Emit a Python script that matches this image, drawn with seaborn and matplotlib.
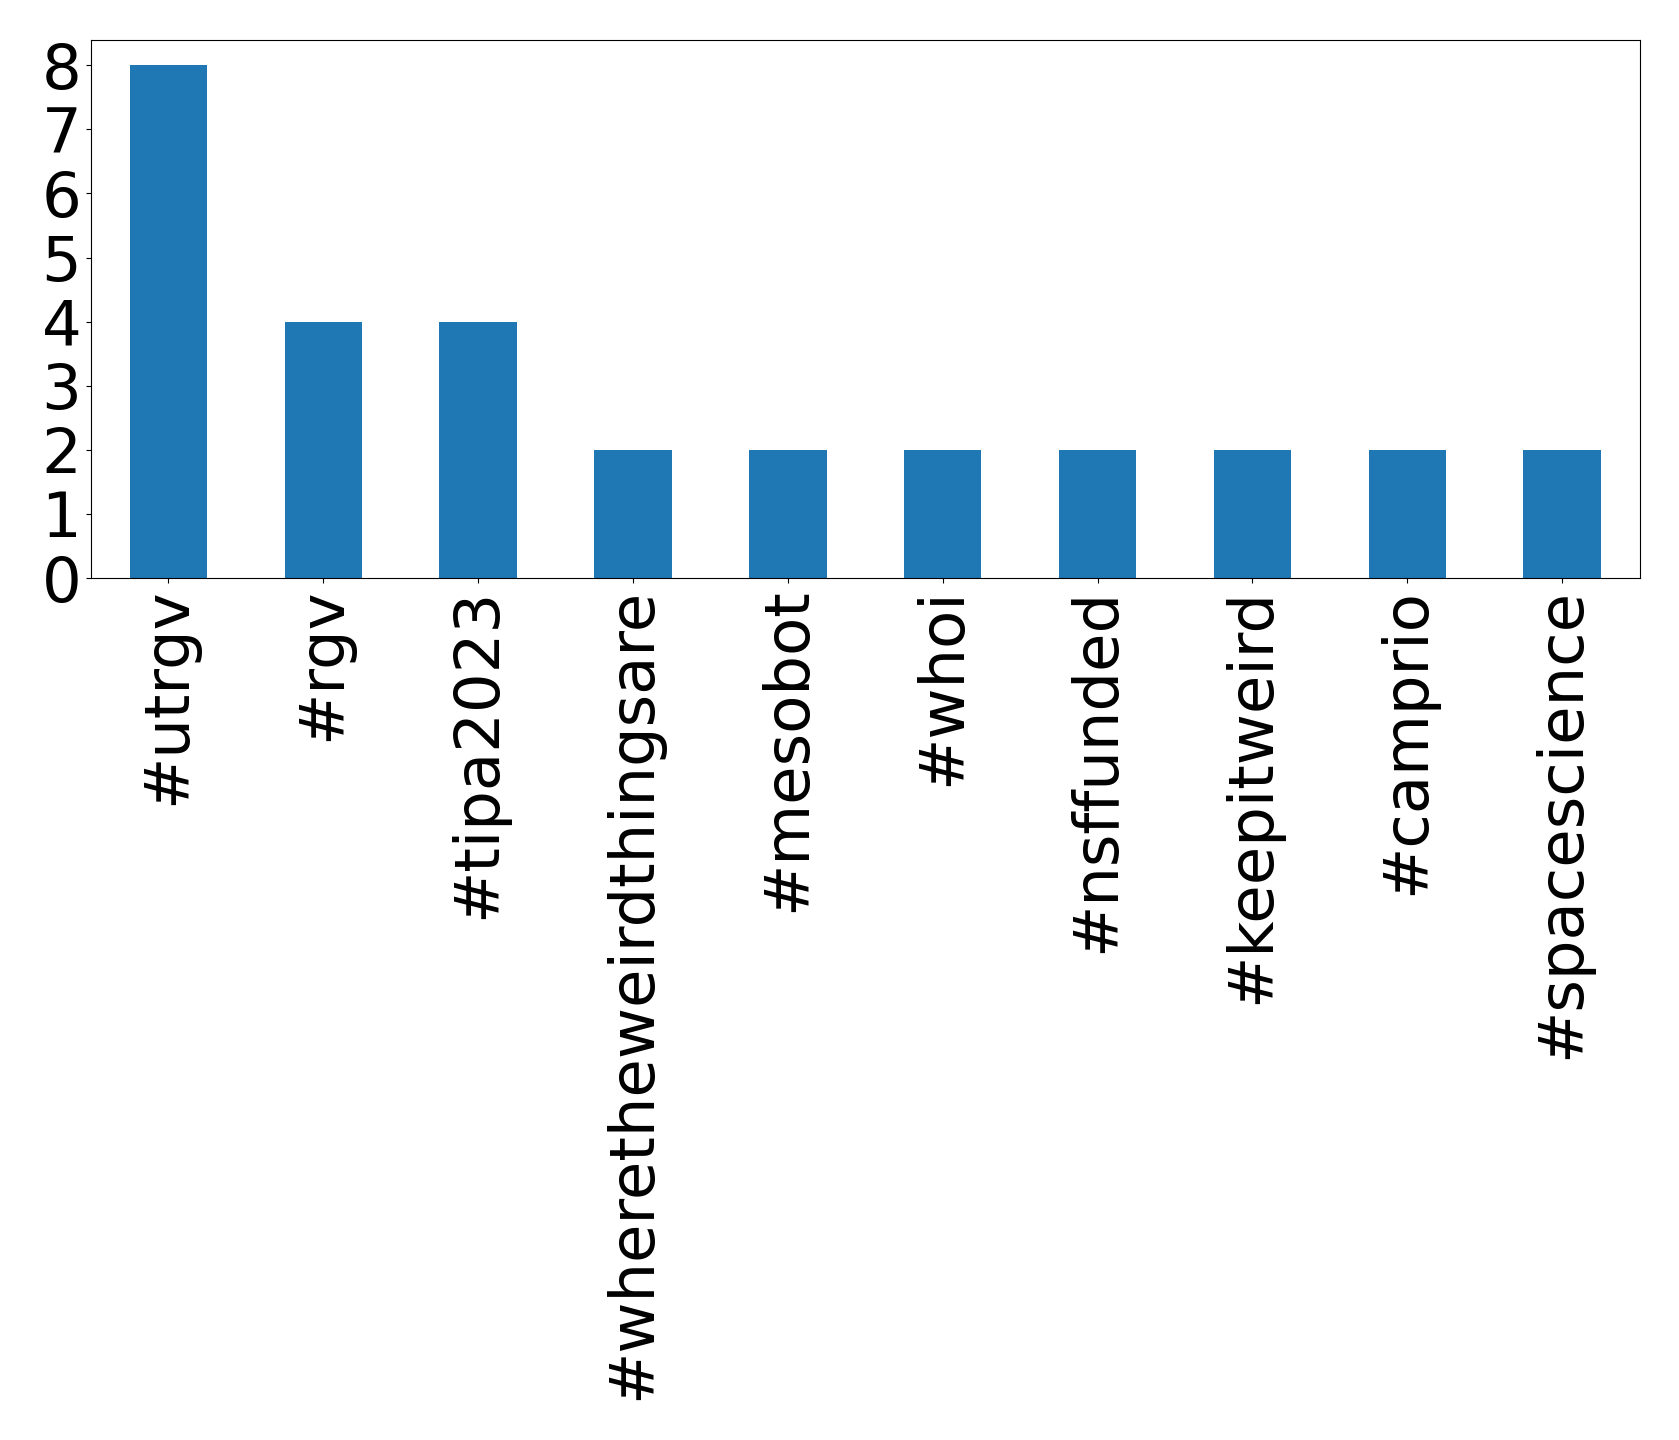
import matplotlib
matplotlib.use("Agg")
from matplotlib import pyplot as plt
import seaborn as sns
import pandas as pd

hashtags = ['#utrgv', '#rgv', '#tipa2023', '#wheretheweirdthingsare', '#mesobot',
            '#whoi', '#nsffunded', '#keepitweird', '#camprio', '#spacescience']
counts = [8, 4, 4, 2, 2, 2, 2, 2, 2, 2]
y_ticks = [0, 1, 2, 3, 4, 5, 6, 7, 8]

df = pd.DataFrame({'hashtag': hashtags, 'count': counts})

plt.rcParams['font.family'] = ['DejaVu Sans']
fig = plt.figure(figsize=(16.79, 14.4), dpi=100)
ax = fig.add_axes([0.0542, 0.5986, 0.9223, 0.3739])
sns.barplot(data=df, x='hashtag', y='count', color='#1f77b4', saturation=1,
            width=0.5, ax=ax)
ax.set_xlim(-0.5, 9.5)
ax.set_ylim(0, 8.4)
ax.set_yticks(y_ticks)
ax.set_xlabel('')
ax.set_ylabel('')
for s in ax.spines.values():
    s.set_visible(True)
    s.set_color('black')
    s.set_linewidth(0.8)
ax.tick_params(axis='both', labelsize=45, length=3.5, width=0.8, color='black')
plt.xticks(rotation=90)
fig.savefig('out.png', dpi=100)
